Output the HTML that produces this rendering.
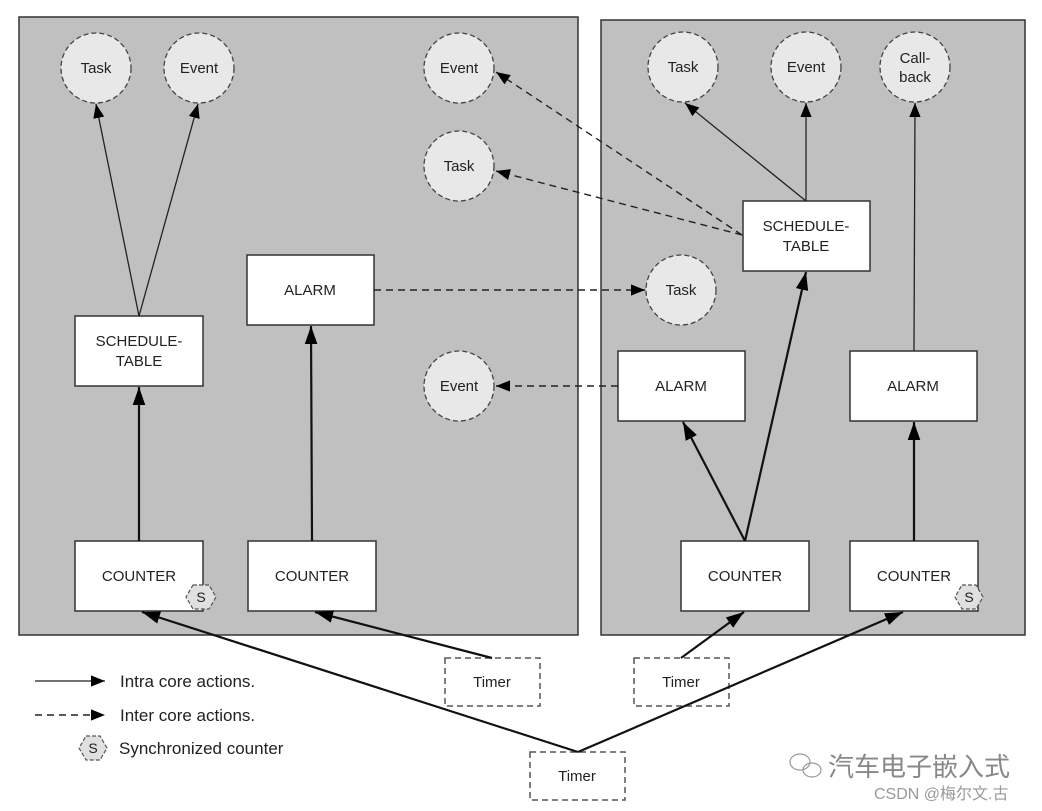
<!DOCTYPE html>
<html><head><meta charset="utf-8"><style>
html,body{margin:0;padding:0;background:#fff;}
svg{display:block;}
text{font-family:"Liberation Sans",Arial,sans-serif;fill:#222;}
</style></head><body>
<svg width="1042" height="811" viewBox="0 0 1042 811" xmlns="http://www.w3.org/2000/svg">
<defs>
<marker id="a" viewBox="0 0 10 10" refX="10" refY="5" markerWidth="14" markerHeight="14" markerUnits="userSpaceOnUse" orient="auto"><path d="M0,1 L10,5 L0,9 z" fill="#000"/></marker>
<marker id="b" viewBox="0 0 10 10" refX="10" refY="5" markerWidth="18" markerHeight="18" markerUnits="userSpaceOnUse" orient="auto"><path d="M0,1.5 L10,5 L0,8.5 z" fill="#000"/></marker>
</defs>
<rect x="19" y="17" width="559" height="618" fill="#c0c0c0" stroke="#333" stroke-width="1.5"/>
<rect x="601" y="20" width="424" height="615" fill="#c0c0c0" stroke="#333" stroke-width="1.5"/>

<g fill="#e8e8e8" stroke="#444" stroke-width="1.3" stroke-dasharray="5,3">
<circle cx="96" cy="68" r="35"/><circle cx="199" cy="68" r="35"/>
<circle cx="459" cy="68" r="35"/><circle cx="459" cy="166" r="35"/>
<circle cx="459" cy="386" r="35"/><circle cx="683" cy="67" r="35"/>
<circle cx="806" cy="67" r="35"/><circle cx="915" cy="67" r="35"/>
<circle cx="681" cy="290" r="35"/>
</g>
<g font-size="15" text-anchor="middle">
<text x="96" y="73">Task</text><text x="199" y="73">Event</text>
<text x="459" y="73">Event</text><text x="459" y="171">Task</text>
<text x="459" y="391">Event</text><text x="683" y="72">Task</text>
<text x="806" y="72">Event</text><text x="915" y="63">Call-</text><text x="915" y="82">back</text>
<text x="681" y="295">Task</text>
</g>

<g fill="#fff" stroke="#333" stroke-width="1.5">
<rect x="75" y="316" width="128" height="70"/>
<rect x="247" y="255" width="127" height="70"/>
<rect x="75" y="541" width="128" height="70"/>
<rect x="248" y="541" width="128" height="70"/>
<rect x="743" y="201" width="127" height="70"/>
<rect x="618" y="351" width="127" height="70"/>
<rect x="850" y="351" width="127" height="70"/>
<rect x="681" y="541" width="128" height="70"/>
<rect x="850" y="541" width="128" height="70"/>
</g>
<g font-size="15" text-anchor="middle">
<text x="139" y="346">SCHEDULE-</text><text x="139" y="366">TABLE</text>
<text x="310" y="295">ALARM</text>
<text x="139" y="581">COUNTER</text><text x="312" y="581">COUNTER</text>
<text x="806" y="231">SCHEDULE-</text><text x="806" y="251">TABLE</text>
<text x="681" y="391">ALARM</text><text x="913" y="391">ALARM</text>
<text x="745" y="581">COUNTER</text><text x="914" y="581">COUNTER</text>
</g>

<g fill="#e0e0e0" stroke="#555" stroke-width="1.2" stroke-dasharray="4,2">
<polygon points="193,597 209,597 216,609 209,621 193,621 186,609" transform="translate(0,-12)"/>
<polygon points="962,585 976,585 983,597 976,609 962,609 955,597"/>
<polygon points="86,736 100,736 107,748 100,760 86,760 79,748"/>
</g>
<g font-size="14" text-anchor="middle">
<text x="201" y="602">S</text><text x="969" y="602">S</text><text x="93" y="753">S</text>
</g>

<g fill="#fff" stroke="#555" stroke-width="1.5" stroke-dasharray="6,4">
<rect x="445" y="658" width="95" height="48"/>
<rect x="634" y="658" width="95" height="48"/>
<rect x="530" y="752" width="95" height="48"/>
</g>
<g font-size="15" text-anchor="middle">
<text x="492" y="687">Timer</text><text x="681" y="687">Timer</text><text x="577" y="781">Timer</text>
</g>

<g stroke="#222" stroke-width="1.3" fill="none" marker-end="url(#a)">
<line x1="139" y1="316" x2="96" y2="104"/>
<line x1="139" y1="316" x2="198" y2="104"/>
<line x1="806" y1="201" x2="685" y2="103"/>
<line x1="806" y1="201" x2="806" y2="103"/>
<line x1="914" y1="351" x2="915" y2="103"/>
<line x1="35" y1="681" x2="105" y2="681"/>
</g>
<g stroke="#111" stroke-width="2.2" fill="none" marker-end="url(#b)">
<line x1="139" y1="541" x2="139" y2="387"/>
<line x1="312" y1="541" x2="311" y2="326"/>
<line x1="745" y1="541" x2="683" y2="422"/>
<line x1="745" y1="541" x2="806" y2="272"/>
<line x1="914" y1="541" x2="914" y2="422"/>
<line x1="578" y1="752" x2="142" y2="612"/>
<line x1="578" y1="752" x2="903" y2="612"/>
<line x1="492" y1="658" x2="315" y2="612"/>
<line x1="681" y1="658" x2="744" y2="612"/>
</g>
<g stroke="#222" stroke-width="1.4" fill="none" stroke-dasharray="7,5" marker-end="url(#a)">
<line x1="374" y1="290" x2="645" y2="290"/>
<line x1="742" y1="235" x2="496" y2="72"/>
<line x1="742" y1="235" x2="496" y2="171"/>
<line x1="618" y1="386" x2="496" y2="386"/>
<line x1="35" y1="715" x2="105" y2="715"/>
</g>

<g font-size="17">
<text x="120" y="687">Intra core actions.</text>
<text x="120" y="721">Inter core actions.</text>
<text x="119" y="754">Synchronized counter</text>
</g>
<text x="828" y="776" font-size="26" style="fill:#888;font-family:'Liberation Sans','Noto Sans CJK SC',sans-serif">汽车电子嵌入式</text>
<text x="874" y="799" font-size="16" style="fill:#999;font-family:'Liberation Sans','Noto Sans CJK SC',sans-serif">CSDN @梅尔文.古</text>
<g stroke="#999" fill="none" stroke-width="1.2"><ellipse cx="800" cy="762" rx="10" ry="8"/><ellipse cx="812" cy="770" rx="9" ry="7"/></g>
</svg>
</body></html>
